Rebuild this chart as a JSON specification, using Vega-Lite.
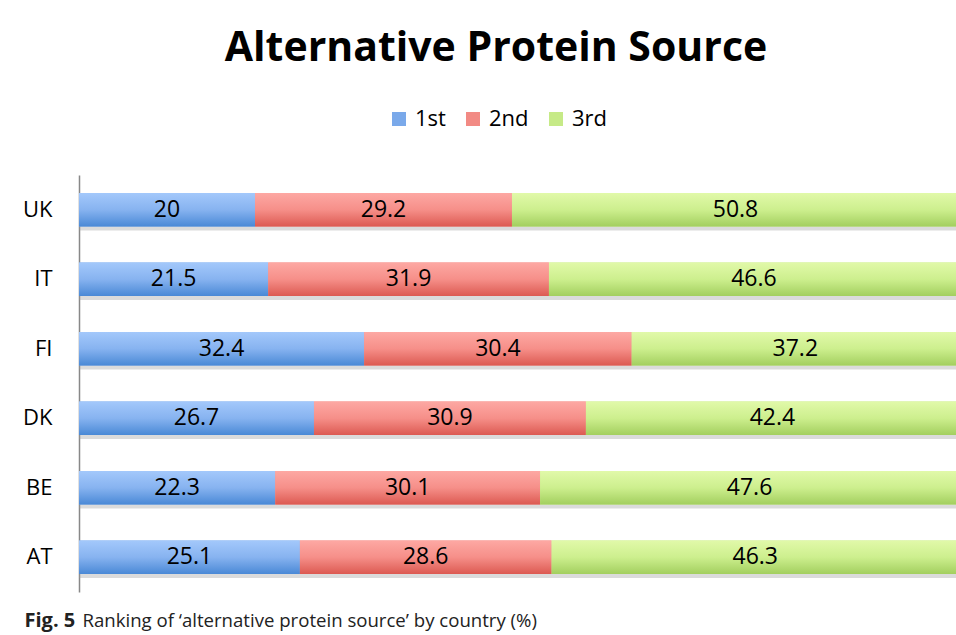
{
  "$schema": "https://vega.github.io/schema/vega-lite/v6.json",
  "autosize": {"type": "none"},
  "width": 880,
  "height": 417,
  "padding": {"left": 79, "top": 175, "right": 0, "bottom": 43},
  "background": "white",
  "title": {
    "text": "Alternative Protein Source",
    "font": "Open Sans",
    "fontSize": 41,
    "fontWeight": "bold",
    "color": "black",
    "anchor": "middle",
    "frame": "group",
    "baseline": "alphabetic",
    "offset": 6,
    "dx": -23
  },
  "data": {
    "values": [
      {"country": "UK", "rank": "1st", "value": 20},
      {"country": "UK", "rank": "2nd", "value": 29.2},
      {"country": "UK", "rank": "3rd", "value": 50.8},
      {"country": "IT", "rank": "1st", "value": 21.5},
      {"country": "IT", "rank": "2nd", "value": 31.9},
      {"country": "IT", "rank": "3rd", "value": 46.6},
      {"country": "FI", "rank": "1st", "value": 32.4},
      {"country": "FI", "rank": "2nd", "value": 30.4},
      {"country": "FI", "rank": "3rd", "value": 37.2},
      {"country": "DK", "rank": "1st", "value": 26.7},
      {"country": "DK", "rank": "2nd", "value": 30.9},
      {"country": "DK", "rank": "3rd", "value": 42.4},
      {"country": "BE", "rank": "1st", "value": 22.3},
      {"country": "BE", "rank": "2nd", "value": 30.1},
      {"country": "BE", "rank": "3rd", "value": 47.6},
      {"country": "AT", "rank": "1st", "value": 25.1},
      {"country": "AT", "rank": "2nd", "value": 28.6},
      {"country": "AT", "rank": "3rd", "value": 46.3}
    ]
  },
  "transform": [
    {"stack": "value", "groupby": ["country"], "sort": [{"field": "rank", "order": "ascending"}], "as": ["x0", "x1"]}
  ],
  "encoding": {
    "y": {
      "field": "country",
      "type": "nominal",
      "sort": ["UK", "IT", "FI", "DK", "BE", "AT"],
      "scale": {"paddingInner": 0.52, "paddingOuter": 0.26},
      "axis": {
        "title": "Ranking of ‘alternative protein source’ by country (%)",
        "titleAngle": 0,
        "titleAlign": "left",
        "titleBaseline": "alphabetic",
        "titleX": 3,
        "titleY": 451,
        "titleFont": "Open Sans",
        "titleFontSize": 18.6,
        "titleFontWeight": "normal",
        "titleColor": "#222",
        "domainColor": "#888",
        "domainWidth": 1.5,
        "ticks": false,
        "labelPadding": 27,
        "labelFont": "Open Sans",
        "labelFontSize": 22,
        "labelColor": "black"
      }
    }
  },
  "layer": [
    {
      "mark": {"type": "bar", "color": "#999", "opacity": 0.35, "yOffset": 4},
      "encoding": {
        "x": {"field": "x1", "type": "quantitative", "aggregate": "max", "scale": {"domain": [0, 100]}}
      }
    },
    {
      "mark": {"type": "bar"},
      "encoding": {
        "x": {
          "field": "x0",
          "type": "quantitative",
          "scale": {"domain": [0, 100], "nice": false},
          "axis": {
            "title": "Fig. 5",
            "titleAnchor": "start",
            "titleAlign": "left",
            "titleBaseline": "alphabetic",
            "titleX": -55,
            "titleY": 34,
            "titleFont": "Open Sans",
            "titleFontSize": 20,
            "titleFontWeight": "bold",
            "titleColor": "#222",
            "labels": false,
            "ticks": false,
            "domain": false,
            "grid": false
          }
        },
        "x2": {"field": "x1"},
        "color": {
          "field": "rank",
          "type": "nominal",
          "scale": {
            "domain": ["1st", "2nd", "3rd"],
            "range": ["#7aa9ea", "#f28a84", "#c6ea87"]
          },
          "legend": {
            "title": null,
            "orient": "none",
            "direction": "horizontal",
            "legendX": 309,
            "legendY": -67,
            "symbolType": "square",
            "symbolSize": 196,
            "symbolStrokeWidth": 0,
            "labelFont": "Open Sans",
            "labelFontSize": 22,
            "labelColor": "black",
            "labelOffset": 5,
            "columnPadding": 16
          }
        }
      }
    },
    {
      "mark": {"type": "bar"},
      "encoding": {
        "x": {"field": "x0", "type": "quantitative"},
        "x2": {"field": "x1"},
        "fill": {
          "condition": [
            {"test": "datum.rank === '1st'", "value": {"gradient": "linear", "x1": 0, "y1": 0, "x2": 0, "y2": 1, "stops": [{"offset": 0, "color": "#a3c8fb"}, {"offset": 0.5, "color": "#87b3f0"}, {"offset": 1, "color": "#4a89d6"}]}},
            {"test": "datum.rank === '2nd'", "value": {"gradient": "linear", "x1": 0, "y1": 0, "x2": 0, "y2": 1, "stops": [{"offset": 0, "color": "#fda8a3"}, {"offset": 0.5, "color": "#f68f89"}, {"offset": 1, "color": "#dc5a52"}]}}
          ],
          "value": {"gradient": "linear", "x1": 0, "y1": 0, "x2": 0, "y2": 1, "stops": [{"offset": 0, "color": "#e1f9a9"}, {"offset": 0.5, "color": "#cdef8e"}, {"offset": 1, "color": "#a3cf5f"}]}
        }
      }
    },
    {
      "transform": [
        {"fold": ["x0", "x1"], "as": ["edge", "pos"]}
      ],
      "mark": {"type": "text", "font": "Open Sans", "fontSize": 23, "color": "black", "baseline": "middle", "align": "center"},
      "encoding": {
        "x": {"field": "pos", "type": "quantitative", "aggregate": "mean"},
        "detail": {"field": "rank", "type": "nominal"},
        "text": {"field": "value", "type": "quantitative", "aggregate": "max"}
      }
    }
  ],
  "config": {"view": {"stroke": null}}
}
